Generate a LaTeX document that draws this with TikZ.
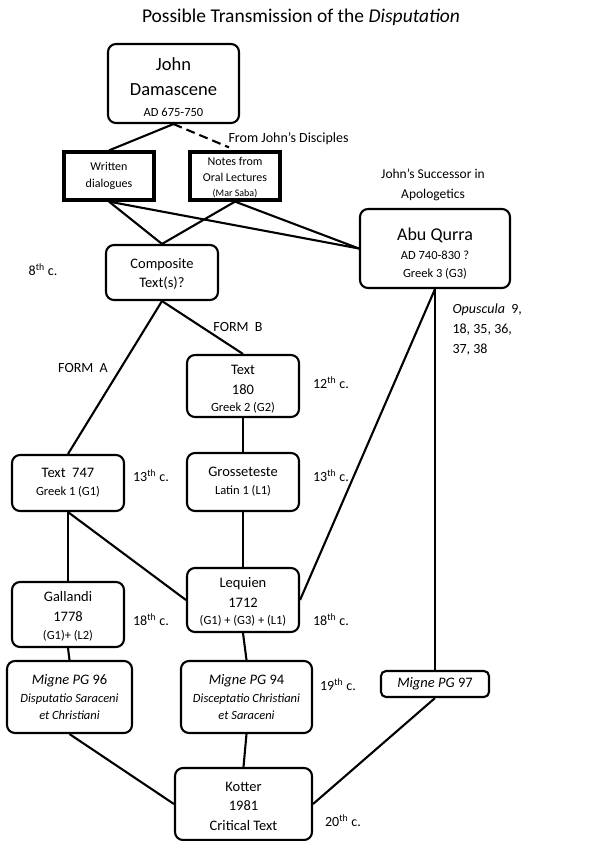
\documentclass[tikz,border=0pt]{standalone}
\usepackage{fontspec}
\setmainfont{Carlito}
\usepackage{tikz}
\usetikzlibrary{positioning,calc}

% smaller second-level text inside the boxes
\newcommand{\minor}{\fontsize{12.5}{15}\selectfont}
\newcommand{\mainsize}[1]{\fontsize{14.5}{#1}\selectfont}
\newcommand{\topstrut}[1]{\rule{0pt}{#1}}

\begin{document}
\begin{tikzpicture}[x=1pt, y=-1pt,
    rbox/.style={draw, rounded corners=8pt, line width=2.1pt, align=center, inner sep=1pt},
    sbox/.style={draw, line width=3.2pt, align=center, inner sep=1pt},
    link/.style={line width=2.1pt},
    dashlink/.style={line width=2.1pt, dash pattern=on 9pt off 5pt},
    century/.style={font=\fontsize{14}{16}\selectfont}]
    \useasboundingbox (0,0) rectangle (600,841);

    % Title
    \node [font=\fontsize{19.5}{22}\selectfont] (title) at (301,17) {Possible Transmission of the \textit{Disputation}};

    % John and his writings
    \node [rbox, minimum width=131pt, minimum height=79pt, font=\fontsize{18.5}{25}\selectfont] (john) at (173.5,83.5)
        {\topstrut{21pt}John\\Damascene\\[-4pt]{\minor AD 675-750}};
    \node [sbox, minimum width=90pt, minimum height=48pt, font=\fontsize{12}{17}\selectfont] (written) at (109,176)
        {Written\\dialogues};
    \node [sbox, minimum width=90pt, minimum height=48pt, font=\fontsize{12}{15.5}\selectfont] (notes) at (235,176)
        {\topstrut{12pt}Notes from\\Oral Lectures\\{\fontsize{10}{12}\selectfont (Mar Saba)}};
    \node [anchor=west, font=\fontsize{14}{16}\selectfont] (disciples) at (225,139) {From John’s Disciples};

    % Abu Qurra
    \node [align=center, font=\fontsize{13.5}{20}\selectfont] (successor) at (433,185) {John’s Successor in\\Apologetics};
    \node [rbox, minimum width=150pt, minimum height=79pt, font=\fontsize{18}{19}\selectfont] (abu) at (435,248.5)
        {\topstrut{22pt}Abu Qurra\\{\minor AD 740-830 ?}\\[-1pt]{\minor Greek 3 (G3)}};
    \node [anchor=north west, align=left, font=\fontsize{14}{20}\selectfont] (opuscula) at (449,300)
        {\textit{Opuscula}\ \ 9,\\18, 35, 36,\\37, 38};

    % Composite text and the two forms
    \node [rbox, minimum width=112pt, minimum height=55pt, font=\mainsize{19}] (composite) at (162,272.5)
        {\topstrut{14pt}Composite\\Text(s)?};
    \node [century] (c8) at (43,270) {8\textsuperscript{th} c.};
    \node [century] (formA) at (83,368) {FORM\ \ A};
    \node [century] (formB) at (238,327) {FORM\ \ B};

    % Manuscripts
    \node [rbox, minimum width=112pt, minimum height=62pt, font=\mainsize{20}] (text180) at (243,386)
        {\topstrut{16.5pt}Text\\180\\[-3pt]{\minor Greek 2 (G2)}};
    \node [century] (c12) at (331,383) {12\textsuperscript{th} c.};
    \node [rbox, minimum width=112pt, minimum height=56pt, font=\mainsize{18}] (text747) at (68,483)
        {Text\ \ 747\\{\minor Greek 1 (G1)}};
    \node [century] (c13a) at (151,476) {13\textsuperscript{th} c.};
    \node [rbox, minimum width=112pt, minimum height=58pt, font=\mainsize{18}] (grosseteste) at (243,482)
        {Grosseteste\\{\minor Latin 1 (L1)}};
    \node [century] (c13b) at (331,476) {13\textsuperscript{th} c.};

    % Early editions
    \node [rbox, minimum width=112pt, minimum height=65pt, font=\mainsize{20}] (gallandi) at (68,614.5)
        {\topstrut{14pt}Gallandi\\1778\\[-2pt]{\minor (G1)+ (L2)}};
    \node [century] (c18a) at (151,620) {18\textsuperscript{th} c.};
    \node [rbox, minimum width=112pt, minimum height=64pt, font=\mainsize{20}] (lequien) at (243,600)
        {\topstrut{14pt}Lequien\\1712\\[-3pt]{\minor (G1) + (G3) + (L1)}};
    \node [century] (c18b) at (331,620) {18\textsuperscript{th} c.};

    % Migne
    \node [rbox, minimum width=125pt, minimum height=72pt, font=\mainsize{18}] (migne96) at (69.5,697)
        {\textit{Migne PG} 96\\{\minor\itshape Disputatio Saraceni}\\[-1pt]{\minor\itshape et Christiani}};
    \node [rbox, minimum width=131pt, minimum height=72pt, font=\mainsize{18}] (migne94) at (246.5,697)
        {\textit{Migne PG} 94\\{\minor\itshape Disceptatio Christiani}\\[-1pt]{\minor\itshape et Saraceni}};
    \node [century] (c19) at (338,685) {19\textsuperscript{th} c.};
    \node [rbox, rounded corners=5pt, minimum width=108pt, minimum height=26pt, font=\mainsize{17}] (migne97) at (435,684)
        {\textit{Migne PG} 97};

    % Kotter
    \node [rbox, minimum width=137pt, minimum height=72pt, font=\mainsize{19.5}] (kotter) at (243.5,804)
        {\topstrut{14pt}Kotter\\1981\\Critical Text};
    \node [century] (c20) at (343,821) {20\textsuperscript{th} c.};

    % Connectors
    \draw [link] (john.south) -- (written.north);
    \draw [dashlink] (john.south) -- ($(notes.north)+(-6,-3)$);
    \draw [link] (written.south) -- (composite.north);
    \draw [link] (written.south) -- (abu.west);
    \draw [link] (notes.south) -- (composite.north);
    \draw [link] (notes.south) -- (abu.west);
    \draw [link] (composite.south) -- (text747.north);
    \draw [link] (composite.south) -- (text180.north);
    \draw [link] (text180.south) -- (grosseteste.north);
    \draw [link] (grosseteste.south) -- (lequien.north);
    \draw [link] (text747.south) -- (gallandi.north);
    \draw [link] (text747.south) -- (lequien.west);
    \draw [link] (abu.south) -- (lequien.east);
    \draw [link] (abu.south) -- (migne97.north);
    \draw [link] (gallandi.south) -- (migne96.north);
    \draw [link] (lequien.south) -- (migne94.north);
    \draw [link] (migne96.south) -- (kotter.west);
    \draw [link] (migne94.south) -- (kotter.north);
    \draw [link] (migne97.south) -- (kotter.east);
\end{tikzpicture}
\end{document}
